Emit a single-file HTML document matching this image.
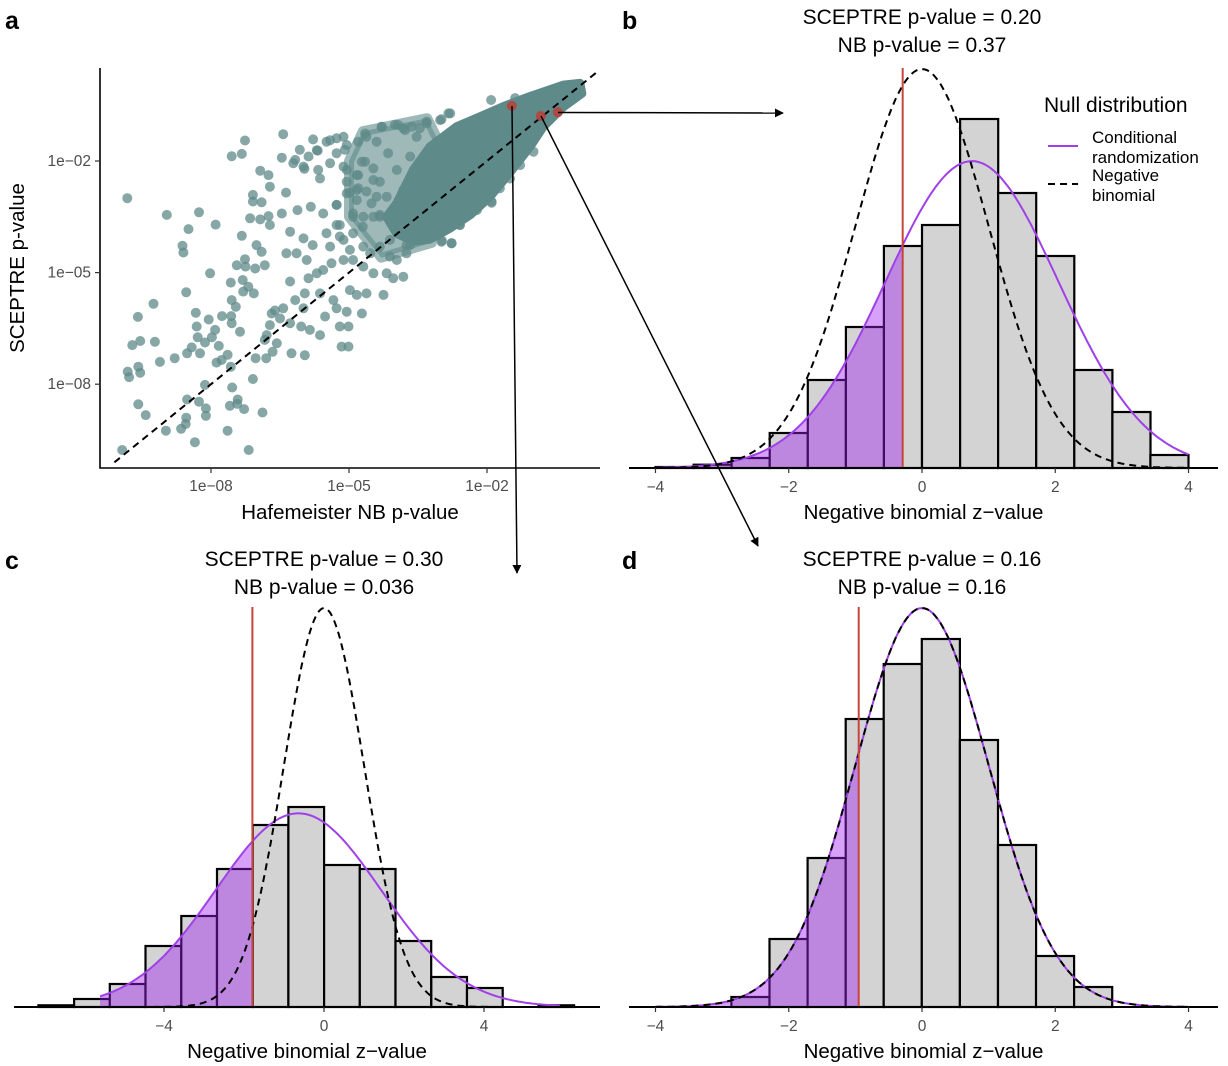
<!DOCTYPE html>
<html><head><meta charset="utf-8">
<style>
html,body{margin:0;padding:0;background:#fff;}
svg{display:block;font-family:"Liberation Sans",Arial,sans-serif;}
</style></head>
<body>
<svg id="fig" width="1228" height="1066" viewBox="0 0 1228 1066" xmlns="http://www.w3.org/2000/svg">
<defs>
<marker id="arr" viewBox="0 0 10 10" refX="9" refY="5" markerWidth="9" markerHeight="9" markerUnits="userSpaceOnUse" orient="auto"><path d="M0,0 L10,5 L0,10 z" fill="#000"/></marker>
</defs>
<g id="layerA"></g>
<g id="layerB"></g>
<g id="layerC"></g>
<g id="layerD"></g>
<g id="layerArrows"></g>
</svg>
<script>
// ---------- Panel a data (log10 p-values) ----------
const scatterPoints = [
[-9.93,-9.77],[-9.82,-3.00],[-8.96,-3.45],[-8.26,-3.38],[-7.90,-3.71],[-8.49,-3.83],[-8.62,-4.28],[-8.60,-4.46],
[-8.02,-5.02],[-8.54,-5.53],[-9.25,-5.84],[-9.59,-6.19],[-9.71,-6.95],[-9.54,-6.84],[-9.22,-6.86],[-9.11,-7.40],
[-8.79,-7.30],[-9.81,-7.66],[-9.58,-7.53],[-9.78,-7.81],[-9.54,-7.69],[-9.58,-8.54],[-9.42,-8.83],[-8.98,-9.25],
[-8.65,-9.20],[-8.54,-8.90],[-8.55,-9.07],[-8.35,-9.56],[-8.52,-8.41],[-8.26,-8.47],[-8.11,-8.65],[-8.11,-8.85],
[-8.13,-8.02],[-7.54,-8.09],[-7.09,-7.86],[-7.64,-9.25],[-7.18,-9.77],[-6.88,-8.76],[-7.59,-8.58],[-7.43,-8.53],
[-7.42,-8.41],[-7.28,-8.67],[-7.57,-7.53],[-7.88,-7.42],[-7.77,-7.35],[-7.64,-7.21],[-8.52,-7.17],[-8.42,-7.01],
[-8.24,-7.17],[-8.13,-6.88],[-7.98,-6.74],[-7.83,-6.97],[-8.31,-6.45],[-8.29,-6.74],[-8.05,-6.26],[-7.91,-6.54],
[-8.33,-6.08],[-7.76,-6.17],[-7.56,-6.17],[-7.55,-6.36],[-7.57,-5.27],[-7.31,-5.20],[-7.19,-5.38],[-7.07,-5.56],
[-7.46,-5.92],[-7.30,-5.51],[-7.55,-5.74],[-7.37,-6.59],[-7.03,-7.30],[-6.80,-7.30],[-6.66,-7.13],[-6.83,-6.81],
[-6.79,-6.68],[-6.72,-6.41],[-6.68,-6.10],[-6.50,-6.23],[-7.44,-4.80],[-7.25,-4.84],[-7.04,-4.89],[-6.83,-4.80],
[-7.26,-4.64],[-7.01,-4.26],[-6.90,-4.44],[-7.33,-4.01],[-7.15,-3.54],[-6.93,-3.57],[-6.75,-3.48],[-6.72,-3.72],
[-7.09,-2.91],[-7.09,-3.09],[-6.90,-3.11],[-7.55,-1.87],[-7.33,-1.81],[-7.26,-1.45],[-6.93,-2.26],[-6.75,-2.38],
[-6.72,-2.69],[-6.43,-1.28],[-6.46,-1.91],[-6.37,-2.85],[-6.17,-1.97],[-6.07,-1.70],[-5.97,-2.21],[-5.88,-1.88],
[-5.78,-1.42],[-5.68,-1.72],
[-6.46,-3.41],[-6.12,-3.32],[-5.83,-3.23],[-6.28,-3.90],[-5.99,-4.08],[-5.79,-4.26],[-6.36,-4.48],[-6.14,-4.48],
[-5.92,-4.66],[-5.70,-5.02],[-5.88,-5.15],[-6.28,-5.24],[-5.96,-5.56],[-5.63,-5.56],[-6.17,-5.74],[-5.99,-5.96],
[-6.43,-5.96],[-6.61,-6.02],[-6.28,-6.36],[-6.04,-6.45],[-5.85,-6.54],[-5.63,-6.68],[-6.57,-6.90],[-6.25,-7.17],
[-5.96,-7.22],[-5.52,-6.18],[-5.27,-5.96],[-5.05,-6.05],[-4.72,-6.10],[-5.20,-6.45],[-5.01,-6.45],[-5.16,-6.99],
[-5.01,-6.99],[-5.34,-5.74],[-4.98,-5.47],[-4.83,-5.60],[-4.62,-5.56],[-4.25,-5.60],[-5.56,-4.93],[-5.38,-4.75],
[-5.12,-4.66],[-4.91,-4.66],[-4.69,-4.84],[-4.47,-5.02],[-4.18,-5.02],[-4.04,-5.15],[-3.82,-5.11],[-5.41,-4.30],
[-5.12,-4.12],[-4.91,-3.94],[-5.49,-3.94],[-5.27,-3.72],[-5.56,-3.41],[-5.27,-3.18],[-4.91,-3.50],[-4.69,-3.50],
[-4.47,-3.50],[-4.33,-3.45],[-5.05,-2.87],[-4.83,-2.78],[-4.62,-2.82],[-4.40,-2.96],[-5.63,-2.47],[-5.41,-2.06],
[-5.27,-1.79],[-5.05,-1.57],[-5.49,-1.48],[-5.70,-1.71],[-4.80,-2.38],[-4.47,-2.51],[-5.99,-2.15],[-5.67,-2.24],
[-6.21,-2.06],[-5.41,-1.44],[-5.12,-1.35],[-4.80,-1.48],[-4.62,-1.35],[-4.29,-1.08],[-4.00,-1.03],[-3.82,-1.12],
[-3.64,-1.08],[-3.31,-0.99],[-2.99,-0.88],[-2.84,-0.72],[-4.65,-2.02],[-5.05,-2.24],[-4.83,-3.05],[-3.96,-4.66],
[-3.75,-4.48],[-3.67,-4.26],[-2.99,-4.17],[-2.77,-4.21],[-2.59,-3.72],[-2.22,-3.23],[-1.90,-3.12],[-1.64,-2.47],
[-4.11,-4.12],[-4.33,-4.30],[-4.69,-4.30],
[-1.91,-0.36],[-1.39,-0.31],[-2.80,-0.72],[-3.31,-0.94],[-3.93,-1.03],[-4.29,-1.08],[-4.65,-1.26],[-5.27,-1.39],
[-5.09,-1.70],[-4.40,-1.48],[-4.15,-1.79],[-4.72,-2.02],[-4.47,-2.20],[-5.12,-2.15],[-4.83,-2.38],[-4.33,-2.56],
[-5.05,-2.56],[-4.80,-2.73],[-4.98,-2.85],[-5.27,-3.18],[-4.51,-3.14],[-4.91,-3.41],[-5.20,-3.72],[-4.70,-3.77],
[-5.20,-4.03],[-4.98,-4.39],[-4.54,-4.48],[-4.11,-4.57],[-3.75,-4.26],[-2.98,-4.14],[-2.77,-4.21],[-2.59,-3.72],
[-1.90,-3.09],[-1.72,-2.73],[-1.50,-2.47],[-1.28,-2.11],[-0.99,-1.75],[-2.22,-3.32],[-3.31,-3.77],[-3.82,-3.94],
[-3.60,-3.50],[-4.33,-3.50],[-4.18,-2.96],[-3.82,-2.78],[-3.96,-2.24],[-3.67,-1.88],[-3.53,-1.35],[-3.02,-0.90],
[-3.46,-1.12],[-3.78,-1.17],[-3.09,-1.48],[-3.24,-2.24],[-2.88,-2.69],[-2.52,-3.05],[-3.02,-3.23],[-3.46,-3.14],
[-2.66,-2.15],[-2.37,-1.79]
];
const denseCloud = [
[-3.96,-3.14],[-3.60,-2.24],[-3.24,-1.62],[-2.66,-1.08],[-2.15,-0.81],[-1.65,-0.54],[-1.07,-0.27],[-0.34,0.04],
[0.02,0.09],[0.06,-0.18],[-0.34,-0.54],[-0.78,-1.08],[-1.07,-1.62],[-1.50,-2.30],[-1.93,-2.95],[-2.37,-3.45],
[-2.80,-3.80],[-3.24,-4.10],[-3.60,-4.15],[-3.96,-3.95],[-4.18,-3.50]
];
const mottledCloud = [[-4.7,-1.2],[-3.3,-0.85],[-3.0,-1.6],[-3.2,-4.2],[-4.3,-4.6],[-5.0,-3.5],[-5.0,-2.0]];
const highlightPoints = [[-1.46,-0.52],[-0.83,-0.79],[-0.46,-0.69]];
const aTickValues = [-8,-5,-2];
const aTickLabels = ["1e\u221208","1e\u221205","1e\u221202"];

// ---------- Histogram panels data ----------
const binWidthB = 4/7;
const binStartB = -4;
const histB = [0.001,0.0033,0.010,0.035,0.088,0.141,0.222,0.243,0.349,0.275,0.212,0.098,0.056,0.013];
const crParamsB = [0.75,1.3];
const nbParamsB = [0,1];
const obsB = -0.29;

const binWidthC = 6.25/7;
const binStartC = -7.14;
const histC = [0.0017,0.008,0.023,0.061,0.091,0.138,0.182,0.200,0.142,0.138,0.066,0.030,0.019,0,0.0017];
const crParamsC = [-0.64,2.06];
const nbParamsC = [0,1];
const obsC = -1.79;

const binWidthD = 4/7;
const binStartD = -2.86;
const histD = [0.010,0.068,0.149,0.288,0.343,0.368,0.267,0.162,0.051,0.020];
const crParamsD = [0,1];
const nbParamsD = [0,1];
const obsD = -0.95;

const histTicksBD = [-4,-2,0,2,4];
const histTicksC = [-4,0,4];

const NS = "http://www.w3.org/2000/svg";
function mk(parent, tag, attrs, text){
  const e = document.createElementNS(NS, tag);
  for (const k in attrs) e.setAttribute(k, attrs[k]);
  if (text !== undefined) e.textContent = text;
  parent.appendChild(e);
  return e;
}
function dens(z, p){ return Math.exp(-0.5*Math.pow((z-p[0])/p[1],2))/(p[1]*Math.sqrt(2*Math.PI)); }

// ---------- Panel a ----------
(function(){
  const g = document.getElementById('layerA');
  const xA = l => 579 + 46*l;
  const yA = l => 86.6 - 37.2*l;
  const mpts = mottledCloud.map(p => xA(p[0]).toFixed(1)+','+yA(p[1]).toFixed(1)).join(' ');
  const mp = mk(g,'polygon',{points:mpts, fill:'#5f8a8a','fill-opacity':0.6, stroke:'#5f8a8a','stroke-opacity':0.6,'stroke-width':10,'stroke-linejoin':'round'});
  
  
  const pts = denseCloud.map(p => xA(p[0]).toFixed(1)+','+yA(p[1]).toFixed(1)).join(' ');
  const poly = mk(g,'polygon',{points:pts, fill:'#5f8a8a', stroke:'#5f8a8a','stroke-width':9,'stroke-linejoin':'round'});
  
  
  scatterPoints.forEach(p => {
    const c = mk(g,'circle',{cx:xA(p[0]).toFixed(1), cy:yA(p[1]).toFixed(1), r:5, fill:'#5f8a8a','fill-opacity':0.75});
    
    
  });
  const diag = mk(g,'line',{x1:xA(-10.1),y1:yA(-10.1),x2:xA(0.44),y2:yA(0.44),stroke:'#000','stroke-width':2,'stroke-dasharray':'7,5'});
  
  
  highlightPoints.forEach(p => {
    const c = mk(g,'circle',{cx:xA(p[0]).toFixed(1), cy:yA(p[1]).toFixed(1), r:5, fill:'#b5443c','fill-opacity':0.9});
    
    
  });
  const ax = mk(g,'path',{d:'M100,68 V468 H600',fill:'none',stroke:'#000','stroke-width':1.6});
  
  
  aTickValues.forEach((v,i) => {
    const tx = mk(g,'line',{x1:xA(v),x2:xA(v),y1:468,y2:473,stroke:'#333','stroke-width':1.2});
    
    
    const lx = mk(g,'text',{x:xA(v),y:491,'text-anchor':'middle','font-size':15.5,fill:'#4d4d4d'},aTickLabels[i]);
    
    
    const ty = mk(g,'line',{x1:95,x2:100,y1:yA(v),y2:yA(v),stroke:'#333','stroke-width':1.2});
    
    
    const ly = mk(g,'text',{x:91,y:yA(v)+5,'text-anchor':'end','font-size':15.5,fill:'#4d4d4d'},aTickLabels[i]);
    
    
  });
  const xt = mk(g,'text',{x:350,y:519,'text-anchor':'middle','font-size':20.5,fill:'#000'},'Hafemeister NB p-value');
  
  
  const yt = mk(g,'text',{x:0,y:0,'text-anchor':'middle','font-size':20.5,fill:'#000',transform:'translate(24,268) rotate(-90)'},'SCEPTRE p-value');
  
  
  const pl = mk(g,'text',{x:5,y:29,'font-size':25,'font-weight':'bold',fill:'#000'},'a');
  
  
})();

function histPanel(o){
  const g = document.getElementById(o.layer);
  const X = z => o.x0 + o.ppu*z;
  const Y = d => o.base - 1000*d;
  o.hist.forEach((h,i) => {
    if (h <= 0) return;
    const a = o.start + i*o.bw, b = a + o.bw;
    const r = mk(g,'rect',{x:X(a).toFixed(1),y:Y(h).toFixed(1),width:(X(b)-X(a)).toFixed(1),height:(o.base-Y(h)).toFixed(1),fill:'#d3d3d3',stroke:'#000','stroke-width':2.2});
    
    
  });
  let d = 'M'+X(o.crRange[0]).toFixed(1)+','+o.base;
  const n = 120;
  for (let k=0;k<=n;k++){
    const z = o.crRange[0] + (o.obs - o.crRange[0])*k/n;
    d += ' L'+X(z).toFixed(1)+','+Y(dens(z,o.cr)).toFixed(1);
  }
  d += ' L'+X(o.obs).toFixed(1)+','+o.base+' Z';
  const f = mk(g,'path',{d:d,fill:'#a020f0','fill-opacity':0.42,stroke:'none'});
  
  
  function curve(p, r, attrs, name){
    let s = '';
    const m = 200;
    for (let k=0;k<=m;k++){
      const z = r[0] + (r[1]-r[0])*k/m;
      s += (k?' L':'M')+X(z).toFixed(1)+','+Y(dens(z,p)).toFixed(1);
    }
    const c = mk(g,'path',Object.assign({d:s,fill:'none'},attrs));
    
    
  }
  curve(o.cr, o.crRange, {stroke:'#a040e8','stroke-width':2}, 'conditional-randomization-curve');
  curve(o.nb, o.nbRange, {stroke:'#000','stroke-width':2,'stroke-dasharray':'7,5'}, 'negative-binomial-curve');
  const rl = mk(g,'line',{x1:X(o.obs),x2:X(o.obs),y1:o.base,y2:o.base-400,stroke:'#c8453a','stroke-width':2});
  
  
  const ax = mk(g,'line',{x1:o.axL,x2:o.axR,y1:o.base,y2:o.base,stroke:'#000','stroke-width':2});
  
  
  o.ticks.forEach(t => {
    const tl = mk(g,'line',{x1:X(t),x2:X(t),y1:o.base,y2:o.base+5,stroke:'#333','stroke-width':1.2});
    
    
    const tt = mk(g,'text',{x:X(t),y:o.base+24,'text-anchor':'middle','font-size':15.5,fill:'#4d4d4d'},t<0?'\u2212'+(-t):String(t));
    
    
  });
  const xt = mk(g,'text',{x:(o.axL+o.axR)/2,y:o.base+51,'text-anchor':'middle','font-size':20.5,fill:'#000'},'Negative binomial z\u2212value');
  
  
  const t1 = mk(g,'text',{x:o.x0,y:o.titleY,'text-anchor':'middle','font-size':21,fill:'#000'},o.title1);
  
  
  const t2 = mk(g,'text',{x:o.x0,y:o.titleY+28,'text-anchor':'middle','font-size':21,fill:'#000'},o.title2);
  
  
  const pl = mk(g,'text',{x:o.labelX,y:o.labelY,'font-size':25,'font-weight':'bold',fill:'#000'},o.label);
  
  
}

histPanel({layer:'layerB',x0:922,ppu:66.63,base:468,hist:histB,start:binStartB,bw:binWidthB,cr:crParamsB,nb:nbParamsB,obs:obsB,
  crRange:[-4,4],nbRange:[-4,4],axL:629,axR:1218,ticks:histTicksBD,title1:'SCEPTRE p-value = 0.20',title2:'NB p-value = 0.37',titleY:24,label:'b',labelX:622,labelY:29});
histPanel({layer:'layerC',x0:324,ppu:40,base:1007,hist:histC,start:binStartC,bw:binWidthC,cr:crParamsC,nb:nbParamsC,obs:obsC,
  crRange:[-5.6,5.9],nbRange:[-4.3,4.3],axL:14,axR:600,ticks:histTicksC,title1:'SCEPTRE p-value = 0.30',title2:'NB p-value = 0.036',titleY:566,label:'c',labelX:5,labelY:569});
histPanel({layer:'layerD',x0:922,ppu:66.63,base:1007,hist:histD,start:binStartD,bw:binWidthD,cr:crParamsD,nb:nbParamsD,obs:obsD,
  crRange:[-4,4],nbRange:[-4,4],axL:629,axR:1218,ticks:histTicksBD,title1:'SCEPTRE p-value = 0.16',title2:'NB p-value = 0.16',titleY:566,label:'d',labelX:622,labelY:569});

(function(){
  const g = document.getElementById('layerB');
  const lg = mk(g,'g',{});
  
  
  const t = mk(lg,'text',{x:1044,y:112,'font-size':21,fill:'#000'},'Null distribution');
  
  
  const l1 = mk(lg,'line',{x1:1048,x2:1078,y1:146,y2:146,stroke:'#a040e8','stroke-width':2});
  
  
  const a1 = mk(lg,'text',{x:1092,y:143,'font-size':17,fill:'#000'},'Conditional');
  
  
  const a2 = mk(lg,'text',{x:1092,y:163,'font-size':17,fill:'#000'},'randomization');
  
  
  const l2 = mk(lg,'line',{x1:1048,x2:1078,y1:184,y2:184,stroke:'#000','stroke-width':2,'stroke-dasharray':'7,5'});
  
  
  const b1 = mk(lg,'text',{x:1092,y:181,'font-size':17,fill:'#000'},'Negative');
  
  
  const b2 = mk(lg,'text',{x:1092,y:201,'font-size':17,fill:'#000'},'binomial');
  
  
})();

(function(){
  const g = document.getElementById('layerArrows');
  const a1 = mk(g,'line',{x1:558,y1:112.5,x2:783,y2:113,stroke:'#000','stroke-width':1.5,'marker-end':'url(#arr)'});
  
  
  const a2 = mk(g,'line',{x1:512,y1:106,x2:517,y2:573,stroke:'#000','stroke-width':1.5,'marker-end':'url(#arr)'});
  
  
  const a3 = mk(g,'line',{x1:541,y1:116,x2:758,y2:546,stroke:'#000','stroke-width':1.5,'marker-end':'url(#arr)'});
  
  
})();
</script>
</body></html>
